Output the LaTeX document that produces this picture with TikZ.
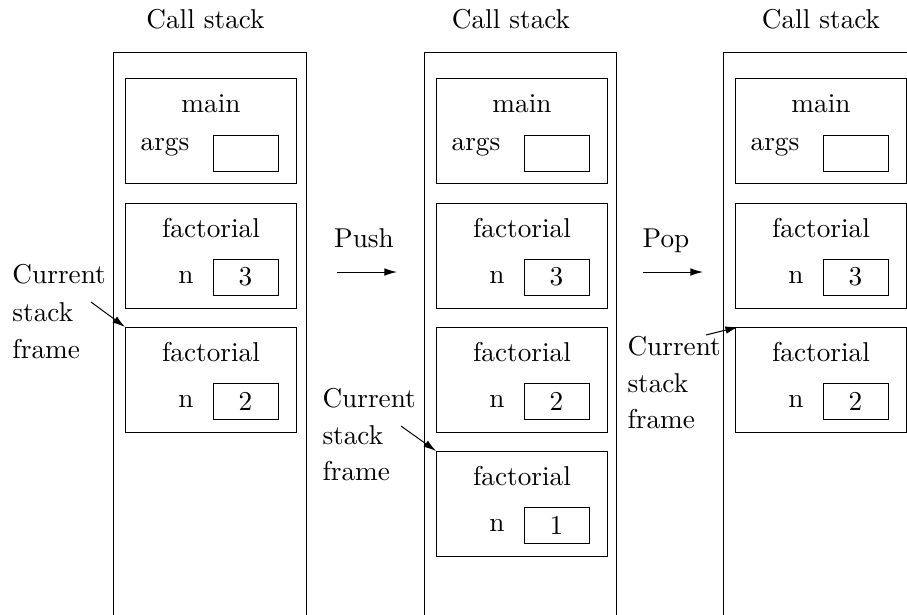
\documentclass[tikz,border=0pt]{standalone}
\usetikzlibrary{arrows.meta}
\begin{document}
\begin{tikzpicture}[x=0.3817pt,y=-0.3817pt, line width=0.38pt,
  frame/.style={draw, minimum width={171*0.3817pt}, minimum height={105*0.3817pt}, anchor=north west, inner sep=0pt},
  valbox/.style={draw, minimum width={65*0.3817pt}, minimum height={36*0.3817pt}, anchor=center, inner sep=0pt, font=\fontsize{10.4}{12}\selectfont},
  txt/.style={anchor=base, inner sep=0pt, font=\fontsize{10.4}{12}\selectfont},
  ltxt/.style={txt, anchor=base west},
  ctxt/.style={anchor=center, inner sep=0pt, font=\fontsize{10.4}{12}\selectfont},
  pointer/.style={-{Latex[length=4.8pt,width=2.9pt]}}
]
\useasboundingbox (0,0) rectangle (907,614);
\clip (0,0) rectangle (907,614);

% stack outlines (open at the bottom)
\draw (113,640) -- (113,52) -- (306,52) -- (306,640);
\draw (424,640) -- (424,52) -- (616,52) -- (616,640);
\draw (723,640) -- (723,52) -- (916,52) -- (916,640);

% headings
\node[txt] (h1) at (205.5,28) {Call stack};
\node[txt] (h2) at (511,28) {Call stack};
\node[txt] (h3) at (821,28) {Call stack};

% ---------- first stack ----------
\node[frame] (a1) at (125,78) {};
\node[txt] (a1t) at ([xshift={86*0.3817pt},yshift={-34.5*0.3817pt}]a1.north west) {main};
\node[ctxt] (a1l) at ([xshift={40*0.3817pt},yshift={-69*0.3817pt}]a1.north west) {args};
\node[valbox] (a1v) at ([xshift={120.5*0.3817pt},yshift={-75*0.3817pt}]a1.north west) {};

\node[frame] (a2) at (125,203) {};
\node[txt] (a2t) at ([xshift={86*0.3817pt},yshift={-34.5*0.3817pt}]a2.north west) {factorial};
\node[ctxt] (a2l) at ([xshift={61*0.3817pt},yshift={-74*0.3817pt}]a2.north west) {n};
\node[valbox] (a2v) at ([xshift={120.5*0.3817pt},yshift={-74*0.3817pt}]a2.north west) {3};

\node[frame] (a3) at (125,327) {};
\node[txt] (a3t) at ([xshift={86*0.3817pt},yshift={-34.5*0.3817pt}]a3.north west) {factorial};
\node[ctxt] (a3l) at ([xshift={61*0.3817pt},yshift={-74*0.3817pt}]a3.north west) {n};
\node[valbox] (a3v) at ([xshift={120.5*0.3817pt},yshift={-74*0.3817pt}]a3.north west) {2};

\node[ltxt] (c1a) at (12,283) {Current};
\node[ltxt] (c1b) at (12,321) {stack};
\node[ltxt] (c1c) at (12,358) {frame};
\coordinate (c1s) at (91,302);
\draw[pointer] (c1s) -- (a3.north west);

% push
\node[txt] (push) at (364,247) {Push};
\coordinate (p1) at (337,272);
\coordinate (p2) at (397,272);
\draw[pointer] (p1) -- (p2);

% ---------- second stack ----------
\node[frame] (b1) at (436,78) {};
\node[txt] (b1t) at ([xshift={86*0.3817pt},yshift={-34.5*0.3817pt}]b1.north west) {main};
\node[ctxt] (b1l) at ([xshift={40*0.3817pt},yshift={-69*0.3817pt}]b1.north west) {args};
\node[valbox] (b1v) at ([xshift={120.5*0.3817pt},yshift={-75*0.3817pt}]b1.north west) {};

\node[frame] (b2) at (436,203) {};
\node[txt] (b2t) at ([xshift={86*0.3817pt},yshift={-34.5*0.3817pt}]b2.north west) {factorial};
\node[ctxt] (b2l) at ([xshift={61*0.3817pt},yshift={-74*0.3817pt}]b2.north west) {n};
\node[valbox] (b2v) at ([xshift={120.5*0.3817pt},yshift={-74*0.3817pt}]b2.north west) {3};

\node[frame] (b3) at (436,327) {};
\node[txt] (b3t) at ([xshift={86*0.3817pt},yshift={-34.5*0.3817pt}]b3.north west) {factorial};
\node[ctxt] (b3l) at ([xshift={61*0.3817pt},yshift={-74*0.3817pt}]b3.north west) {n};
\node[valbox] (b3v) at ([xshift={120.5*0.3817pt},yshift={-74*0.3817pt}]b3.north west) {2};

\node[frame] (b4) at (436,451) {};
\node[txt] (b4t) at ([xshift={86*0.3817pt},yshift={-34.5*0.3817pt}]b4.north west) {factorial};
\node[ctxt] (b4l) at ([xshift={61*0.3817pt},yshift={-74*0.3817pt}]b4.north west) {n};
\node[valbox] (b4v) at ([xshift={120.5*0.3817pt},yshift={-74*0.3817pt}]b4.north west) {1};

\node[ltxt] (c2a) at (322,407) {Current};
\node[ltxt] (c2b) at (322,444) {stack};
\node[ltxt] (c2c) at (322,480) {frame};
\coordinate (c2s) at (401,426);
\draw[pointer] (c2s) -- (b4.north west);

% pop
\node[txt] (pop) at (666,247) {Pop};
\coordinate (q1) at (643,272);
\coordinate (q2) at (703,272);
\draw[pointer] (q1) -- (q2);

% ---------- third stack ----------
\node[frame] (d1) at (735,78) {};
\node[txt] (d1t) at ([xshift={86*0.3817pt},yshift={-34.5*0.3817pt}]d1.north west) {main};
\node[ctxt] (d1l) at ([xshift={40*0.3817pt},yshift={-69*0.3817pt}]d1.north west) {args};
\node[valbox] (d1v) at ([xshift={120.5*0.3817pt},yshift={-75*0.3817pt}]d1.north west) {};

\node[frame] (d2) at (735,203) {};
\node[txt] (d2t) at ([xshift={86*0.3817pt},yshift={-34.5*0.3817pt}]d2.north west) {factorial};
\node[ctxt] (d2l) at ([xshift={61*0.3817pt},yshift={-74*0.3817pt}]d2.north west) {n};
\node[valbox] (d2v) at ([xshift={120.5*0.3817pt},yshift={-74*0.3817pt}]d2.north west) {3};

\node[frame] (d3) at (735,327) {};
\node[txt] (d3t) at ([xshift={86*0.3817pt},yshift={-34.5*0.3817pt}]d3.north west) {factorial};
\node[ctxt] (d3l) at ([xshift={61*0.3817pt},yshift={-74*0.3817pt}]d3.north west) {n};
\node[valbox] (d3v) at ([xshift={120.5*0.3817pt},yshift={-74*0.3817pt}]d3.north west) {2};

\node[ltxt] (c3a) at (627,355) {Current};
\node[ltxt] (c3b) at (627,392) {stack};
\node[ltxt] (c3c) at (627,428) {frame};
\coordinate (c3s) at (706,335);
\draw[pointer] (c3s) -- ([xshift={3*0.3817pt}]d3.north west);
\end{tikzpicture}
\end{document}
